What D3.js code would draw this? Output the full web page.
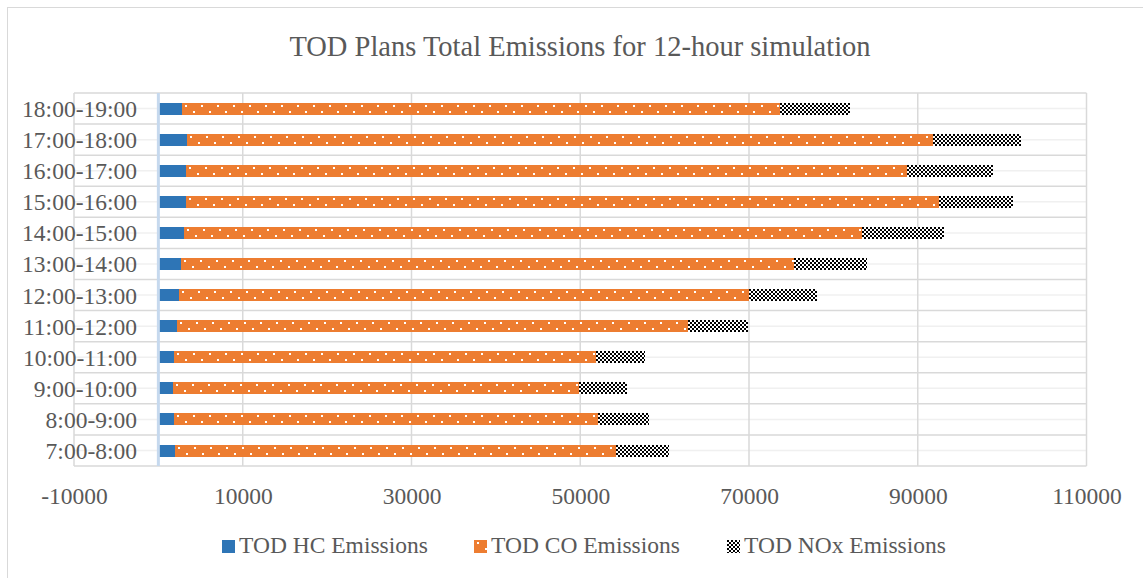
<!DOCTYPE html>
<html>
<head>
<meta charset="utf-8">
<script src="https://cdn.jsdelivr.net/npm/d3@7"></script>
<style>
  html, body { margin: 0; padding: 0; background: #fff; }
  svg { display: block; }
</style>
</head>
<body>
<svg id="chart" width="1143" height="578" font-family="'Liberation Serif', 'Times New Roman', serif"></svg>
<script>
const categories = ["7:00-8:00","8:00-9:00","9:00-10:00","10:00-11:00","11:00-12:00","12:00-13:00","13:00-14:00","14:00-15:00","15:00-16:00","16:00-17:00","17:00-18:00","18:00-19:00"];
const hcEmissions  = [2020, 1900, 1780, 1900, 2220, 2450, 2690, 3080, 3280, 3280, 3400, 2770];
const coEmissions  = [52170, 50200, 48060, 49920, 60540, 67570, 72670, 80300, 89220, 85470, 88350, 70890];
const noxEmissions = [6360, 6040, 5660, 5850, 7140, 7990, 8610, 9750, 8800, 10180, 10470, 8340];
const seriesNames = ["TOD HC Emissions", "TOD CO Emissions", "TOD NOx Emissions"];
const xTicks = [-10000, 10000, 30000, 50000, 70000, 90000, 110000];
const title = "TOD Plans Total Emissions for 12-hour simulation";

const FONT = "'Liberation Serif', 'Times New Roman', serif";
const TXT = "#595959";
const svg = d3.select("#chart");
const plot = { left: 74, right: 1086.5, top: 93, bottom: 466 };

// Defs: patterns
const defs = svg.append("defs");
const dots = defs.append("pattern").attr("id", "coPat")
  .attr("patternUnits", "userSpaceOnUse").attr("width", 16).attr("height", 12);
dots.append("rect").attr("width", 16).attr("height", 12).attr("fill", "#ED7D31");
dots.append("rect").attr("x", 3).attr("y", 2).attr("width", 2).attr("height", 2).attr("fill", "#fff");
dots.append("rect").attr("x", 11).attr("y", 8).attr("width", 2).attr("height", 2).attr("fill", "#fff");

const chk = defs.append("pattern").attr("id", "noxPat")
  .attr("patternUnits", "userSpaceOnUse").attr("width", 4).attr("height", 4);
chk.append("rect").attr("width", 4).attr("height", 4).attr("fill", "#fff");
chk.append("rect").attr("x", 0).attr("y", 0).attr("width", 2).attr("height", 2).attr("fill", "#000");
chk.append("rect").attr("x", 2).attr("y", 2).attr("width", 2).attr("height", 2).attr("fill", "#000");

const fills = ["#2E75B6", "url(#coPat)", "url(#noxPat)"];

// Chart border (extends beyond right/bottom edges)
svg.append("rect").attr("x", 7.5).attr("y", 7.5).attr("width", 1300).attr("height", 800)
  .attr("fill", "none").attr("stroke", "#d9d9d9").attr("stroke-width", 1);

// Title
svg.append("text").attr("x", 580).attr("y", 56).attr("text-anchor", "middle")
  .attr("font-family", FONT).attr("fill", TXT)
  .style("font-size", "28.5px").text(title);

// Scales
const x = d3.scaleLinear().domain([xTicks[0], xTicks[xTicks.length - 1]]).range([plot.left, plot.right]);
const y = d3.scaleBand().domain(categories).range([plot.bottom, plot.top]).paddingInner(0.62).paddingOuter(0.31);

// Minor gridlines at band centers
svg.append("g").selectAll("line").data(categories).join("line")
  .attr("x1", plot.left).attr("x2", plot.right)
  .attr("y1", d => y(d) + y.bandwidth() / 2).attr("y2", d => y(d) + y.bandwidth() / 2)
  .attr("stroke", "#f0f0f0").attr("stroke-width", 1.5);

// Major horizontal gridlines at category boundaries
const bounds = categories.map(d => y(d) - y.step() * y.paddingInner() / 2);
bounds.push(plot.bottom);
svg.append("g").selectAll("line").data(bounds).join("line")
  .attr("x1", plot.left).attr("x2", plot.right)
  .attr("y1", d => d).attr("y2", d => d)
  .attr("stroke", "#d9d9d9").attr("stroke-width", 1.5);

// Vertical gridlines
svg.append("g").selectAll("line").data(xTicks).join("line")
  .attr("x1", d => x(d)).attr("x2", d => x(d))
  .attr("y1", plot.top).attr("y2", plot.bottom)
  .attr("stroke", "#d9d9d9").attr("stroke-width", 1.5);

// Stacked bars
const rows = categories.map((c, i) => ({ cat: c, hc: hcEmissions[i], co: coEmissions[i], nox: noxEmissions[i] }));
const stack = d3.stack().keys(["hc", "co", "nox"])(rows);
svg.append("g").attr("shape-rendering", "crispEdges").selectAll("g").data(stack).join("g")
  .attr("fill", (s, i) => fills[i])
  .selectAll("rect").data(s => s).join("rect")
  .attr("transform", d => `translate(${Math.round(x(d[0]))},${Math.round(y(d.data.cat))})`)
  .attr("x", 0).attr("y", 0)
  .attr("width", d => Math.round(x(d[1])) - Math.round(x(d[0])))
  .attr("height", 12);

// Zero line
svg.append("line").attr("x1", x(0)).attr("x2", x(0)).attr("y1", plot.top).attr("y2", plot.bottom)
  .attr("stroke", "#c6d9ee").attr("stroke-width", 3);

// Category labels
svg.append("g").selectAll("text").data(categories).join("text")
  .attr("x", 137).attr("y", d => y(d) + y.bandwidth() / 2 + 8.5)
  .attr("text-anchor", "end").attr("font-family", FONT).attr("fill", TXT)
  .style("font-size", "23.5px").text(d => d);

// X axis labels
const xAxis = d3.axisBottom(x).tickValues(xTicks).tickSize(0).tickPadding(0).tickFormat(d => String(d));
const ga = svg.append("g").attr("transform", `translate(0,${plot.bottom})`).call(xAxis);
ga.attr("font-family", FONT);
ga.select(".domain").remove();
ga.selectAll("text").attr("y", 38).attr("dy", 0)
  .style("font-size", "23.5px").attr("font-family", FONT).attr("fill", TXT);

// Legend
const legendX = [222, 474, 727];
const lg = svg.append("g").selectAll("g").data(seriesNames).join("g")
  .attr("transform", (d, i) => `translate(${legendX[i]},540)`);
lg.append("rect").attr("width", 13).attr("height", 13).attr("fill", (d, i) => fills[i]);
lg.append("text").attr("x", 17).attr("y", 13).attr("font-family", FONT).attr("fill", TXT)
  .style("font-size", "23.5px").text(d => d);
</script>
</body>
</html>
